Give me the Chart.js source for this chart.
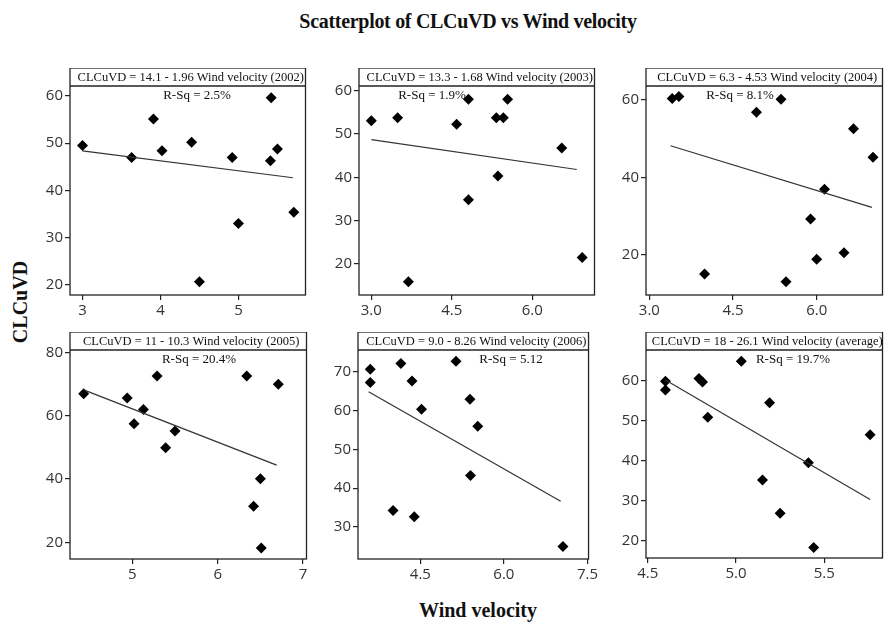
<!DOCTYPE html>
<html>
<head>
<meta charset="utf-8">
<script src="https://cdn.jsdelivr.net/npm/chart.js@4.4.0/dist/chart.umd.min.js"></script>
<style>
  body { margin: 0; background: #fff; }
  #wrap { position: relative; width: 891px; height: 623px; overflow: hidden; }
  canvas { position: absolute; }
  .lbl { position: absolute; font-family: "Liberation Serif", serif; font-weight: bold; color: #111; white-space: nowrap; }
</style>
</head>
<body>
<div id="wrap">
  <div class="lbl" id="title" style="left:0; width:936px; top:10px; text-align:center; font-size:20px; letter-spacing:-0.3px;">Scatterplot of CLCuVD vs Wind velocity</div>
  <div class="lbl" id="ylab" style="left:20px; top:302px; font-size:20px; transform: translate(-50%,-50%) rotate(-90deg);">CLCuVD</div>
  <div class="lbl" id="xlab" style="left:0; width:956px; top:599px; text-align:center; font-size:20px;">Wind velocity</div>
</div>
<script>
// values, one pair of arrays per panel
var x2002 = [3.00, 3.63, 3.91, 4.02, 4.40, 4.50, 4.92, 5.00, 5.42, 5.41, 5.50, 5.71];
var y2002 = [49.5, 47.0, 55.1, 48.4, 50.2, 20.7, 47.0, 33.0, 59.6, 46.3, 48.8, 35.4];
var x2003 = [3.00, 3.49, 3.69, 4.59, 4.81, 4.81, 5.33, 5.46, 5.36, 5.54, 6.55, 6.93];
var y2003 = [53.1, 53.8, 15.8, 52.3, 58.1, 34.8, 53.8, 53.8, 40.3, 58.1, 46.8, 21.4];
var x2004 = [3.41, 3.53, 3.99, 4.92, 5.36, 5.45, 5.89, 6.00, 6.14, 6.49, 6.66, 7.01];
var y2004 = [60.4, 60.9, 15.1, 56.8, 60.2, 13.1, 29.3, 18.9, 37.0, 20.6, 52.6, 45.2];
var x2005 = [4.43, 4.94, 5.02, 5.13, 5.29, 5.39, 5.50, 6.34, 6.42, 6.50, 6.51, 6.71];
var y2005 = [67.0, 65.6, 57.5, 62.0, 72.6, 49.9, 55.2, 72.6, 31.4, 40.1, 18.2, 70.0];
var x2006 = [3.60, 3.60, 4.01, 4.15, 4.35, 4.39, 4.52, 5.14, 5.39, 5.40, 5.53, 7.06];
var y2006 = [70.7, 67.3, 34.2, 72.2, 67.7, 32.6, 60.4, 72.8, 63.0, 43.3, 56.0, 24.9];
var xAvg = [4.60, 4.60, 4.79, 4.81, 4.84, 5.03, 5.15, 5.19, 5.25, 5.41, 5.44, 5.76];
var yAvg = [59.8, 57.6, 60.5, 59.6, 50.8, 64.8, 35.1, 54.4, 26.8, 39.4, 18.2, 46.4];

// fitted line ends as drawn
var fitX = [[3.00, 5.70], [3.00, 6.83], [3.38, 6.99], [4.43, 6.69], [3.57, 7.02], [4.60, 5.76]];
var fitY = [[48.4, 42.7], [48.7, 41.8], [48.2, 32.3], [68.2, 44.4], [64.9, 36.6], [60.1, 30.2]];

var equations = [
  'CLCuVD = 14.1 - 1.96 Wind velocity (2002)',
  'CLCuVD = 13.3 - 1.68 Wind velocity (2003)',
  'CLCuVD = 6.3 - 4.53 Wind velocity (2004)',
  'CLCuVD = 11 - 10.3 Wind velocity (2005)',
  'CLCuVD = 9.0 - 8.26 Wind velocity (2006)',
  'CLCuVD = 18 - 26.1 Wind velocity (average)'
];
var rsq = ['R-Sq = 2.5%', 'R-Sq = 1.9%', 'R-Sq = 8.1%', 'R-Sq = 20.4%', 'R-Sq = 5.12', 'R-Sq = 19.7%'];

var xTicks = [[3, 4, 5], [3.0, 4.5, 6.0], [3.0, 4.5, 6.0], [5, 6, 7], [4.5, 6.0, 7.5], [4.5, 5.0, 5.5]];
var yTicks = [[20, 30, 40, 50, 60], [20, 30, 40, 50, 60], [20, 40, 60], [20, 40, 60, 80], [30, 40, 50, 60, 70], [20, 30, 40, 50, 60]];
var xDecimals = [0, 1, 1, 0, 1, 1];
var xRange = [[2.84, 5.86], [2.77, 7.16], [2.94, 7.18], [4.27, 7.04], [3.38, 7.52], [4.49, 5.83]];
var yRange = [[17.9, 62.1], [12.7, 61.15], [9.7, 63.6], [14.7, 80.8], [21.7, 75.7], [15.6, 67.6]];

// frame boxes: left, top of header, bottom of plot, right
var frames = [
  [70, 68, 295, 309], [359, 68, 295, 598], [646, 68, 295, 886],
  [70, 332, 559, 310], [358, 332, 559, 598], [646, 332, 558, 886]
];
var headerH = 18;
var rsqX = [127, 73, 94, 129, 153, 147];
var yAxisW = 45, xAxisH = 28;

var framePlugin = {
  id: 'frame',
  afterDraw: function (chart) {
    var i = chart.options.plugins.frame.index;
    var a = chart.chartArea;
    var c = chart.ctx;
    var top = a.top - headerH;
    c.save();
    c.strokeStyle = '#222';
    c.lineWidth = 1.3;
    c.strokeRect(a.left, top, a.right - a.left, a.bottom - top);
    c.beginPath();
    c.moveTo(a.left, a.top);
    c.lineTo(a.right, a.top);
    c.stroke();
    c.fillStyle = '#111';
    c.font = '12.5px "Liberation Serif", serif';
    c.textAlign = 'center';
    c.textBaseline = 'middle';
    c.save();
    c.beginPath();
    c.rect(a.left, top, a.right - a.left, headerH);
    c.clip();
    c.fillText(equations[i], (a.left + a.right) / 2 + 3, top + headerH / 2 + 0.5);
    c.restore();
    c.font = '13px "Liberation Serif", serif';
    c.fillText(rsq[i], a.left + rsqX[i], a.top + 10);
    c.restore();
  }
};

var xs = [x2002, x2003, x2004, x2005, x2006, xAvg];
var ys = [y2002, y2003, y2004, y2005, y2006, yAvg];

function pts(xv, yv) {
  var out = [];
  for (var k = 0; k < xv.length; k++) out.push({ x: xv[k], y: yv[k] });
  return out;
}

window.onload = function () {
  var wrap = document.getElementById('wrap');
  for (var i = 0; i < 6; i++) {
    (function (i) {
      var f = frames[i];
      var cv = document.createElement('canvas');
      var w = (f[3] - f[0]) + yAxisW + 2;
      var h = (f[2] - f[1]) + xAxisH;
      cv.width = w; cv.height = h;
      cv.style.left = (f[0] - yAxisW) + 'px';
      cv.style.top = f[1] + 'px';
      cv.style.width = w + 'px';
      cv.style.height = h + 'px';
      wrap.appendChild(cv);

      new Chart(cv.getContext('2d'), {
        type: 'scatter',
        data: {
          datasets: [{
            type: 'line',
            data: pts(fitX[i], fitY[i]),
            borderColor: '#333',
            borderWidth: 1.2,
            pointRadius: 0,
            fill: false,
            clip: false
          }, {
            data: pts(xs[i], ys[i]),
            pointStyle: 'rectRot',
            pointRadius: 5.5,
            backgroundColor: '#000',
            borderColor: '#000',
            borderWidth: 0,
            clip: false
          }]
        },
        options: {
          responsive: false,
          animation: false,
          devicePixelRatio: 1,
          layout: { padding: { top: headerH, right: 2, left: 0, bottom: 0 } },
          plugins: { legend: { display: false }, tooltip: { enabled: false }, frame: { index: i } },
          scales: {
            x: {
              type: 'linear',
              min: xRange[i][0], max: xRange[i][1],
              afterBuildTicks: function (s) { s.ticks = xTicks[i].map(function (v) { return { value: v }; }); },
              afterFit: function (s) { s.height = xAxisH; },
              border: { display: false },
              grid: { drawOnChartArea: false, tickLength: 5, color: '#222', lineWidth: 1.2 },
              ticks: {
                autoSkip: false, maxRotation: 0, padding: 2, color: '#333',
                font: { family: '"Open Sans", sans-serif', size: 15 },
                callback: function (v) { return Number(v).toFixed(xDecimals[i]); }
              }
            },
            y: {
              type: 'linear',
              min: yRange[i][0], max: yRange[i][1],
              afterBuildTicks: function (s) { s.ticks = yTicks[i].map(function (v) { return { value: v }; }); },
              afterFit: function (s) { s.width = yAxisW; },
              border: { display: false },
              grid: { drawOnChartArea: false, tickLength: 5, color: '#222', lineWidth: 1.2 },
              ticks: {
                autoSkip: false, padding: 2, color: '#333',
                font: { family: '"Open Sans", sans-serif', size: 15 }
              }
            }
          }
        },
        plugins: [framePlugin]
      });
    })(i);
  }
};
</script>
</body>
</html>
